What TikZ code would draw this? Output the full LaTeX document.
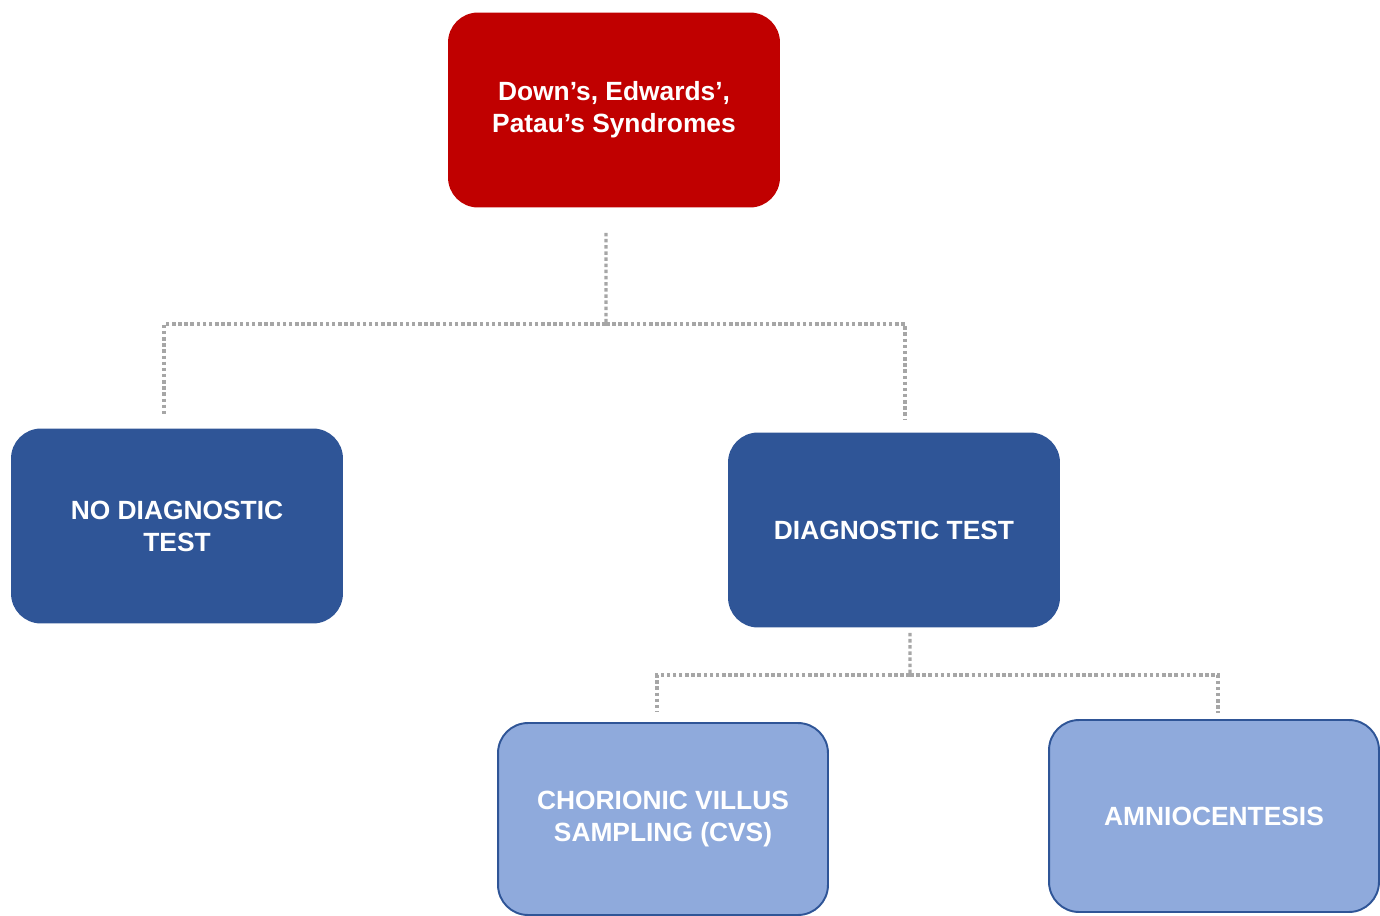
\documentclass[tikz,border=0pt]{standalone}
\usepackage{fontspec}
\setmainfont{Liberation Sans}
\usetikzlibrary{positioning}
\definecolor{synred}{HTML}{C00000}
\definecolor{darkblue}{HTML}{2F5597}
\definecolor{lightblue}{HTML}{8FAADC}
\definecolor{linkgray}{HTML}{A6A6A6}
\begin{document}
\begin{tikzpicture}[
    x=0.02cm, y=-0.02cm,
    box/.style={rectangle, rounded corners=0.6cm, text=white, align=center, inner sep=0pt,
        font=\fontsize{15}{18.3}\selectfont\bfseries},
    mainbox/.style={box, fill=darkblue, minimum width=6.64cm, minimum height=3.9cm},
    topbox/.style={box, fill=synred, minimum width=6.64cm, minimum height=3.9cm},
    testbox/.style={box, fill=lightblue, draw=darkblue, line width=1.1pt, minimum width=6.6cm, minimum height=3.84cm},
    link/.style={draw=linkgray, line width=1.9pt, dash pattern=on 2pt off 1.5pt}
]
    \useasboundingbox (0,0) rectangle (1380,916);

    \node (syn) [topbox] at (614,110) {Down’s, Edwards’,\\Patau’s Syndromes};
    \node (nodiag) [mainbox] at (177,526) {NO DIAGNOSTIC\\TEST};
    \node (diag) [mainbox] at (894,530) {DIAGNOSTIC TEST};
    \node (cvs) [testbox] at (663,819) {CHORIONIC VILLUS\\SAMPLING (CVS)};
    \node (amnio) [testbox] at (1214,816) {AMNIOCENTESIS};

    % connector ends
    \coordinate (synout) at ([xshift=-0.16cm, yshift=-0.5cm]syn.south);
    \coordinate (nodiagin) at ([xshift=-0.26cm, yshift=0.24cm]nodiag.north);
    \coordinate (diagin) at ([xshift=0.22cm, yshift=0.24cm]diag.north);
    \coordinate (diagout) at ([xshift=0.32cm, yshift=-0.1cm]diag.south);
    \coordinate (cvsin) at ([xshift=-0.12cm, yshift=0.22cm]cvs.north);
    \coordinate (amnioin) at ([xshift=0.08cm, yshift=0.12cm]amnio.north);
    \coordinate (bus1) at (606,324);
    \coordinate (bus2) at (910,675);

    \draw[link] (synout) -- (bus1);
    \draw[link] (bus1) -| (nodiagin);
    \draw[link] (bus1) -| (diagin);

    \draw[link] (diagout) -- (bus2);
    \draw[link] (bus2) -| (cvsin);
    \draw[link] (bus2) -| (amnioin);
\end{tikzpicture}
\end{document}
